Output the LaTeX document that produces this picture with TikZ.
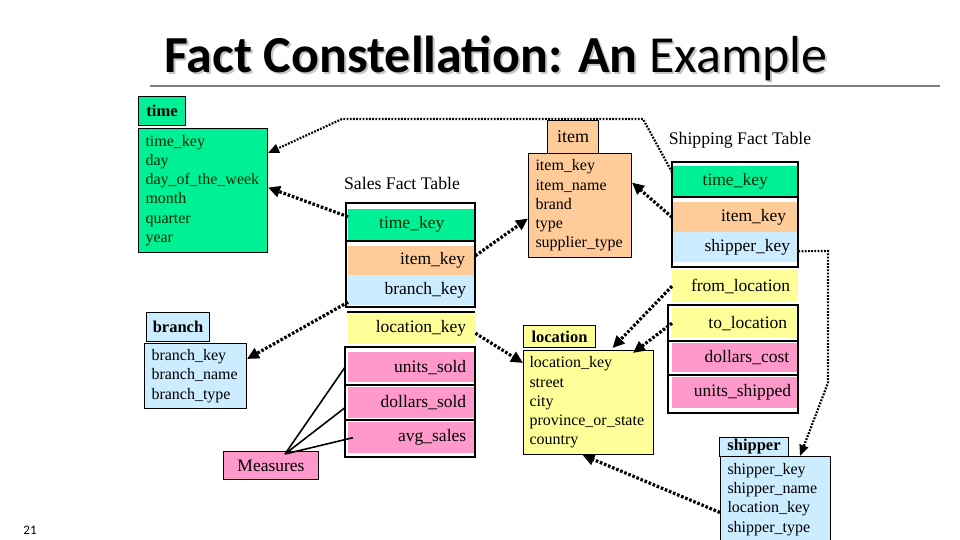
\documentclass[tikz,border=0pt]{standalone}
\usepackage{fontspec}
\setmainfont{Liberation Serif}
\newfontfamily\titlefont{Carlito}
\usetikzlibrary{arrows.meta}
\definecolor{tgreen}{RGB}{0,240,150}
\definecolor{torange}{RGB}{255,204,153}
\definecolor{tblue}{RGB}{204,236,255}
\definecolor{tyellow}{RGB}{255,255,153}
\definecolor{tpink}{RGB}{255,153,204}
\definecolor{dkgreen}{RGB}{0,45,0}
\begin{document}
\begin{tikzpicture}[x=1pt,y=-1pt,
  hdr/.style={draw=black, line width=1pt, inner sep=0pt, anchor=north west,
    font=\fontsize{16.5}{18}\selectfont\bfseries},
  dimbody/.style={draw=black, line width=1pt, inner sep=0pt, align=left, anchor=north west,
    font=\fontsize{16}{19.3}\selectfont},
  row/.style={inner sep=0pt, anchor=north west, font=\fontsize{17.5}{19}\selectfont},
  rrow/.style={row, align=right},
  frame/.style={draw=black, line width=2.6pt},
  sep/.style={draw=black, line width=2pt},
  fk/.style={line width=3.2pt, dash pattern=on 2.6pt off 1.8pt,
    -{Triangle[length=12pt,width=11pt]}},
  fkthin/.style={line width=2.2pt, dash pattern=on 1.8pt off 1.4pt,
    -{Triangle[length=11pt,width=9pt]}},
  meas/.style={line width=1.6pt},
  ttl/.style={font=\fontsize{17.7}{20}\selectfont}
]
\useasboundingbox (0,0) rectangle (960,540);

% title
\node[anchor=base, text=gray!45, font=\titlefont\fontsize{52}{58}\selectfont] (titleshadow) at (498,75) {\textbf{Fact Constellation: An} Example};
\node[anchor=base, font=\titlefont\fontsize{52}{58}\selectfont] (title) at (496,73) {\textbf{Fact Constellation: An} Example};
\coordinate (rl) at (150,86);
\coordinate (rr) at (940,86);
\draw[gray, line width=1.2pt] (rl) -- (rr);
\node[font=\titlefont\fontsize{13}{14}\selectfont] (pnum) at (30,530) {21};

% time dimension
\node[hdr, fill=tgreen, minimum width=47pt, minimum height=29pt] (timeh) at (138,96) {time};
\node[dimbody, fill=tgreen, text=dkgreen, minimum width=129pt, minimum height=124pt, text width=115pt] (timeb) at (138,128)
  {time\_key\\day\\day\_of\_the\_week\\month\\quarter\\year};

% item dimension
\node[hdr, fill=torange, minimum width=51pt, minimum height=33pt, font=\fontsize{18}{20}\selectfont] (itemh) at (547,120) {item};
\node[dimbody, fill=torange, minimum width=103pt, minimum height=104pt, text width=89pt] (itemb) at (528,153)
  {item\_key\\item\_name\\brand\\type\\supplier\_type};

% location dimension
\node[hdr, fill=tyellow, minimum width=72pt, minimum height=22pt] (loch) at (523,325) {location};
\node[dimbody, fill=tyellow, minimum width=130pt, minimum height=104pt, text width=118pt] (locb) at (523,350)
  {location\_key\\street\\city\\province\_or\_state\\country};

% branch dimension
\node[hdr, fill=tblue, minimum width=63pt, minimum height=29pt] (branchh) at (146,312) {branch};
\node[dimbody, fill=tblue, minimum width=102pt, minimum height=65pt, text width=88pt] (branchb) at (144,343)
  {branch\_key\\branch\_name\\branch\_type};

% shipper dimension
\node[hdr, fill=tblue, minimum width=69pt, minimum height=18.5pt] (shiph) at (719,437) {shipper};
\node[dimbody, fill=tblue, minimum width=110pt, minimum height=86pt, text width=96pt] (shipb) at (720,456)
  {shipper\_key\\shipper\_name\\location\_key\\shipper\_type};

% measures
\node[draw=black, line width=1pt, fill=tpink, inner sep=0pt, anchor=north west, minimum width=95pt, minimum height=28pt,
  font=\fontsize{17.5}{19}\selectfont] (meas) at (223,451) {Measures};

% sales fact table
\node[ttl] (salest) at (402,183) {Sales Fact Table};
\node[row, fill=tgreen, text=dkgreen, minimum width=127pt, minimum height=31pt] (stime) at (348,209) {time\_key};
\node[rrow, fill=torange, minimum width=127pt, minimum height=29pt, text width=107pt] (sitem) at (348,246) {item\_key};
\node[rrow, fill=tblue, minimum width=127pt, minimum height=30pt, text width=109pt] (sbranch) at (348,275) {branch\_key};
\node[rrow, fill=tyellow, minimum width=127pt, minimum height=30pt, text width=109pt] (sloc) at (348,313) {location\_key};
\node[rrow, fill=tpink, minimum width=127pt, minimum height=30pt, text width=109pt] (sunits) at (348,352) {units\_sold};
\node[rrow, fill=tpink, minimum width=127pt, minimum height=31pt, text width=109pt] (sdollars) at (348,387) {dollars\_sold};
\node[rrow, fill=tpink, minimum width=127pt, minimum height=31pt, text width=109pt] (savg) at (348,422) {avg\_sales};
\draw[frame] (346,203) rectangle (475,241);
\draw[frame] (346,241) rectangle (475,307);
\draw[sep] (347,312) -- (475,312);
\draw[frame] (345,347) rectangle (475,457);
\draw[sep] (345,384.5) -- (475,384.5);
\draw[sep] (345,419.5) -- (475,419.5);

% shipping fact table
\node[ttl] (shipt) at (740,140) {Shipping Fact Table};
\node[row, fill=tgreen, text=dkgreen, minimum width=126pt, minimum height=30pt] (htime) at (672,166) {time\_key};
\node[rrow, fill=torange, minimum width=126pt, minimum height=30pt, text width=102pt] (hitem) at (672,202) {item\_key};
\node[rrow, fill=tblue, minimum width=126pt, minimum height=30pt, text width=110pt] (hship) at (672,232) {shipper\_key};
\node[rrow, fill=tyellow, minimum width=126pt, minimum height=32pt, text width=110pt] (hfrom) at (672,270) {from\_location};
\node[rrow, fill=tyellow, minimum width=126pt, minimum height=30pt, text width=104pt] (hto) at (672,308) {to\_location};
\node[rrow, fill=tpink, minimum width=126pt, minimum height=29pt, text width=108pt] (hdcost) at (672,343) {dollars\_cost};
\node[rrow, fill=tpink, minimum width=126pt, minimum height=31pt, text width=112pt] (hunits) at (672,377) {units\_shipped};
\draw[frame] (672,162) rectangle (798,197);
\draw[frame] (672,197) rectangle (798,267);
\draw[frame] (668,305) rectangle (798,413);
\draw[sep] (668,341) -- (798,341);
\draw[sep] (668,375) -- (798,375);

% measures links
\coordinate (mp) at ([xshift=14pt,yshift=-3pt]meas.north);
\draw[meas] (mp) -- ([xshift=-3pt]sunits.west);
\draw[meas] (mp) -- ([xshift=-3pt,yshift=-5pt]sdollars.west);
\draw[meas] (mp) -- ([xshift=5pt]savg.west);

% foreign key links
\coordinate (c2a) at (643,119);
\coordinate (c2b) at (342,119);
\coordinate (c10a) at (828,251);
\coordinate (c10b) at (828,383);
\draw[fk] ([yshift=8pt]stime.west) -- ([yshift=3pt]timeb.east);
\draw[fkthin] ([yshift=9pt]htime.west) -- (c2a) -- (c2b) -- ([yshift=-25pt]timeb.north east);
\draw[fk] ([yshift=5pt]sitem.east) -- ([yshift=-13pt]itemb.west);
\draw[fk] (hitem.west) -- ([yshift=23pt]itemb.east);
\draw[fk] ([yshift=-12pt]sbranch.west) -- ([yshift=17pt]branchb.east);
\draw[fk] ([yshift=-5pt]sloc.east) -- ([yshift=-13pt]locb.north west);
\draw[fk] (hfrom.west) -- ([xshift=24pt,yshift=2pt]locb.north);
\draw[fk] (hto.west) -- ([xshift=-21pt,yshift=-3pt]locb.north east);
\draw[fk] ([yshift=-13pt]shipb.west) -- ([xshift=-6pt]locb.south);
\draw[fkthin] ([yshift=-4pt]hship.east) -- (c10a) -- (c10b) -- ([xshift=80pt]shipb.north west);
\end{tikzpicture}
\end{document}
